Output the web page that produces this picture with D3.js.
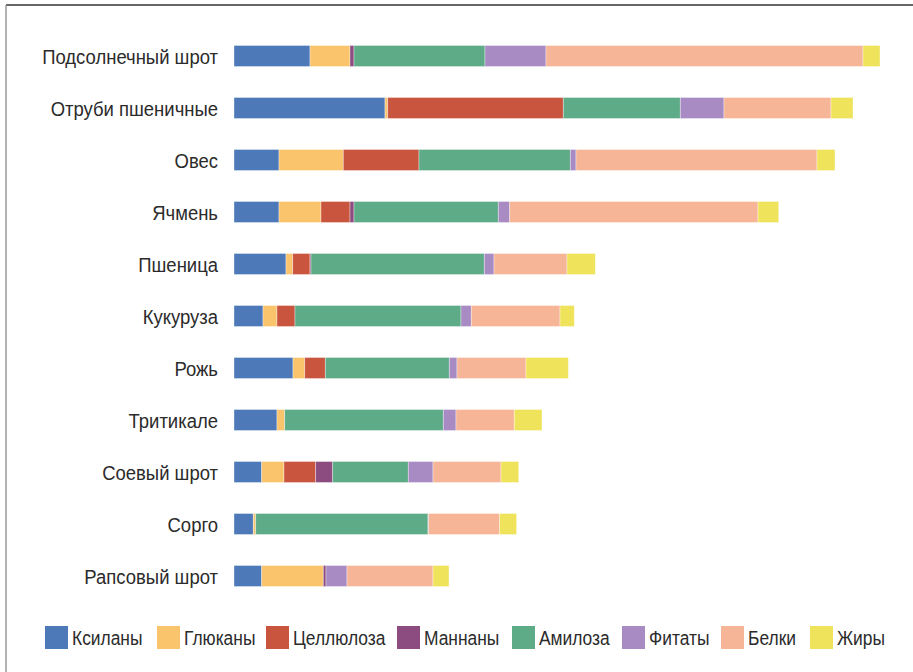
<!DOCTYPE html>
<html lang="ru">
  <head>
    <meta charset="UTF-8" />
    <title>Состав кормов</title>
    <style>
      body {
        margin: 0;
        background: #fff;
      }
      svg {
        display: block;
        font-family: "Liberation Sans", Arial, sans-serif;
      }
      .label {
        font-size: 21px;
        fill: #2b2b2b;
      }
      .legend text {
        font-size: 20px;
        fill: #2b2b2b;
      }
      .bars rect {
        stroke: #fff;
        stroke-opacity: 0.45;
        stroke-width: 0.8;
      }
    </style>
  </head>
  <body>
    <svg id="chart"></svg>

    <script src="https://d3js.org/d3.v7.min.js"></script>
    <script>
      const width = 913;
      const height = 672;

      const categories = [
        "Подсолнечный шрот",
        "Отруби пшеничные",
        "Овес",
        "Ячмень",
        "Пшеница",
        "Кукуруза",
        "Рожь",
        "Тритикале",
        "Соевый шрот",
        "Сорго",
        "Рапсовый шрот",
      ];

      const seriesNames = [
        "Ксиланы",
        "Глюканы",
        "Целлюлоза",
        "Маннаны",
        "Амилоза",
        "Фитаты",
        "Белки",
        "Жиры",
      ];

      const colors = [
        "#4e79b9",
        "#f9c46c",
        "#c9553e",
        "#8d4c80",
        "#5dab87",
        "#a98bc3",
        "#f7b597",
        "#eee35b",
      ];

      // values per series, in category order
      const xylans = [76, 151, 45, 45, 52, 29, 59, 43, 27.7, 19.3, 27.7];
      const glucans = [40, 2.7, 64.3, 42, 6.7, 14, 11.7, 7.7, 22.3, 2.4, 61.6];
      const cellulose = [0, 175.6, 75.7, 29, 17.3, 18, 20.6, 0, 31.7, 0, 0];
      const mannans = [4, 0, 0, 4, 1, 0, 0, 0, 17, 0, 2.7];
      const amylose = [131, 117, 151.3, 144.3, 173.3, 166, 124, 158.6, 75.6, 172.3, 0];
      const phytates = [61, 43.7, 5.7, 11.4, 9.7, 10.3, 7.7, 12.7, 24.7, 0.6, 21];
      const proteins = [317, 107, 241, 248.3, 73, 88.7, 69, 58.3, 68, 71, 86];
      const fats = [17, 22, 18, 20.7, 28.3, 14.3, 42.3, 27.7, 17.7, 17, 16];

      const seriesValues = [
        xylans,
        glucans,
        cellulose,
        mannans,
        amylose,
        phytates,
        proteins,
        fats,
      ];

      const rows = categories.map((name, i) => {
        const row = { name };
        seriesNames.forEach((s, j) => (row[s] = seriesValues[j][i]));
        return row;
      });

      const stacked = d3.stack().keys(seriesNames)(rows);

      const svg = d3
        .select("#chart")
        .attr("width", width)
        .attr("height", height);

      // frame lines (top and left only are visible)
      svg
        .append("line")
        .attr("x1", 6)
        .attr("x2", width)
        .attr("y1", 5)
        .attr("y2", 5)
        .attr("stroke", "#333")
        .attr("stroke-width", 1.5);
      svg
        .append("line")
        .attr("x1", 6)
        .attr("x2", 6)
        .attr("y1", 5)
        .attr("y2", height)
        .attr("stroke", "#999")
        .attr("stroke-width", 1.5);

      const maxTotal = d3.max(stacked[stacked.length - 1], (d) => d[1]);

      const x = d3.scaleLinear().domain([0, maxTotal]).range([234, 880]);

      const y = d3
        .scaleBand()
        .domain(categories)
        .range([30, 602])
        .paddingInner(0.596)
        .paddingOuter(0.298);

      svg
        .append("g")
        .attr("class", "bars")
        .selectAll("g")
        .data(stacked)
        .join("g")
        .attr("fill", (d, i) => colors[i])
        .selectAll("rect")
        .data((d) => d.filter((p) => p[1] > p[0]))
        .join("rect")
        .attr("x", (d) => x(d[0]))
        .attr("y", (d) => y(d.data.name))
        .attr("width", (d) => x(d[1]) - x(d[0]))
        .attr("height", y.bandwidth());

      // condensed look: squeeze glyphs horizontally
      const squeeze = 0.88;

      svg
        .append("g")
        .selectAll("text")
        .data(categories)
        .join("text")
        .attr("class", "label")
        .attr(
          "transform",
          (d) =>
            `translate(218,${y(d) + y.bandwidth() / 2}) scale(${squeeze},1)`
        )
        .attr("dy", "0.36em")
        .attr("text-anchor", "end")
        .text((d) => d);

      // legend
      const legendX = [45, 157, 266, 397, 512, 622, 721, 810];
      const legend = svg
        .append("g")
        .attr("class", "legend")
        .selectAll("g")
        .data(seriesNames)
        .join("g")
        .attr("transform", (d, i) => `translate(${legendX[i]},626)`);

      legend
        .append("rect")
        .attr("width", 23)
        .attr("height", 23)
        .attr("fill", (d, i) => colors[i]);

      legend
        .append("text")
        .attr("transform", `translate(27,11.5) scale(${squeeze - 0.01},1)`)
        .attr("dy", "0.36em")
        .text((d) => d);
    </script>
  </body>
</html>
